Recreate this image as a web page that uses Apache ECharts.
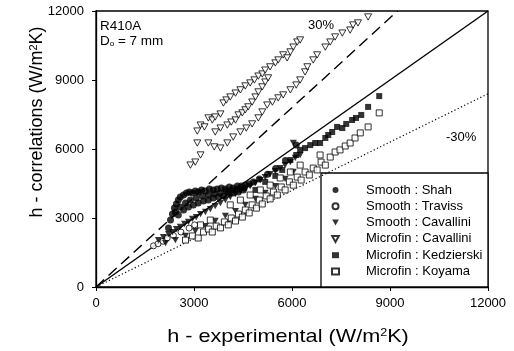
<!DOCTYPE html>
<html><head><meta charset="utf-8">
<script src="https://cdn.jsdelivr.net/npm/echarts@6/dist/echarts.min.js"></script>
<style>html,body{margin:0;padding:0;background:#fff}#c{width:514px;height:351px}</style>
</head><body><div id="c"></div>
<script>
// ---- data ----
const axisMin = 0, axisMax = 12000, axisStep = 3000;
const seriesNames = ['Smooth : Shah','Smooth : Traviss','Smooth : Cavallini','Microfin : Cavallini','Microfin : Kedzierski','Microfin : Koyama'];
const lineEqual = [[0,0],[12000,12000]];
const linePlus30 = [[0,0],[9231,12000]];
const lineMinus30 = [[0,0],[12000,8400]];

const smoothShah = [
 [2220,2570],[2280,2910],[2340,3170],[2400,3440],[2460,3610],[2520,3780],[2580,3910],[2680,4000],[2770,4090],[2860,4130],
 [2950,4090],[3040,4170],[3130,4130],[3230,4220],[3350,4170],[3470,4260],[3590,4220],[3710,4260],[3840,4300],[3960,4260],
 [4080,4350],[4200,4300],[4330,4390],[4450,4390],[4570,4430],[4690,4480],
 [2520,3130],[2680,3350],[2830,3480],[2980,3570],[3130,3650],[3290,3740],[3440,3780],[3590,3870],[3750,3910],[3900,3960],
 [4050,4040],[4200,4090],[4360,4130],[4510,4220],
 [2430,3260],[2580,3480],[2740,3650],[2890,3780],[3070,3870],[3260,3960],[3440,4000],[3620,4040],[3800,4090],[3990,4170],
 [4170,4220],[4360,4260],[4540,4300],
 [4820,4560],[5000,4700],[5250,4900],[5500,5150],[5800,5500],[6130,6170]
];
const smoothTraviss = [
 [1760,1790],[1900,1880],[2050,1990],[2180,2130],[2370,2240],[2600,2390],[2850,2560],[3020,2700]
];
const smoothCavallini = [
 [1910,2040],[2060,2170],[2220,2300],[2340,2390],[2460,2520],[2580,2610],[2710,2740],[2830,2830],[2950,2960],[3070,3040],
 [3200,3170],[3350,3260],[3500,3390],[3650,3520],[3810,3650],[3960,3780],[4110,3910],[4270,4040],[4420,4170],[4570,4300],
 [4720,4390],[4880,4520],[5030,4650],[5180,4780],[5330,4910],[5490,5040],[5640,5170],[5790,5300],[5950,5430],[6100,5610],
 [6250,5740],[6040,6260],
 [2130,1910],[2430,2040],[2740,2220],[3040,2430],[3350,2650],[3650,2870],[3960,3090],[4270,3300],[4570,3570],[4880,3830],
 [5180,4090],[5490,4390],[5790,4700],[6040,5000]
];
const microfinCavallini = [
 [3100,6780],[3200,7040],[3320,6960],[3440,7350],[3560,7260],[3650,7390],[3810,7520],[3900,8000],[3990,8130],[4110,8260],
 [4270,8430],[4420,8570],[4570,8740],[4720,8870],[4850,9000],[4970,9170],[5090,9260],[5180,9430],[5330,9570],[5490,9740],
 [5580,9870],[5730,10090],[5850,9960],[5950,10220],[6040,10430],[6160,10650],[6250,10740],
 [3650,6740],[3810,6910],[4020,7040],[4140,7170],[4270,7260],[4360,7480],[4480,7570],[4570,7700],[4660,7830],[4780,8040],
 [4880,8260],[4970,8480],[5090,8700],[5180,8910],[5270,9090],
 [2890,5300],[3040,5430],[3200,5740],[3100,6260],[3440,6260],[3620,6090],[3810,6040],[4020,6260],[4200,6520],[4420,6740],
 [4600,6910],[4780,7090],[4970,7350],[5090,7610],[5240,7910],[5400,8040],[5580,8220],[5730,8350],[5950,8570],[6130,8780],
 [6250,9000],[6400,9350],[6470,9570],[6650,9870],[6770,10090],[7020,10430],[7170,10650],[7320,10870],[7540,11040],[7780,11170],
 [7870,11390],[8020,11480],[8330,11740]
];
const microfinKedzierski = [
 [5950,5520],[6130,5740],[6250,5960],[6400,6040],[6560,6170],[6710,6260],[6860,6260],[7020,6480],[7110,6610],[7230,6740],
 [7380,6960],[7540,6910],[7660,7090],[7840,7260],[7960,7350],[8120,7480],[8330,7830],[8670,8300],
 [4880,4220],[5180,4570],[5490,4830],[5700,5090]
];
const microfinKoyama = [
 [2740,2040],[2950,2220],[3130,2130],[3290,2390],[3440,2520],[3560,2390],[3680,2650],[3810,2570],[3930,2830],[4050,2700],
 [4140,3000],[4270,2870],[4360,3170],[4480,3040],[4570,3350],[4690,3220],[4780,3570],[4910,3430],[5000,3780],[5090,3610],
 [5210,3960],[5330,3830],[5430,4130],[5550,4000],[5670,4350],[5790,4220],[5920,4570],[6040,4430],[6160,4780],[6280,4650],
 [6400,5000],[6530,4870],[6650,5170],[6770,5090],[6890,5430],[7020,5300],[7170,5650],[7320,5870],[7470,5960],[7630,6130],
 [7780,6260],[7930,6480],[8090,6700],[8330,6960],[8670,7570],
 [4110,3570],[4420,3780],[4720,4000],[5030,4220],[5330,4430],[5640,4740],[5950,5000],[6250,5300],[6860,5740],[3200,2700],[3500,2910]
];

// ---- chart ----
const chart = echarts.init(document.getElementById('c'), null, {renderer: 'canvas'});
const FONT = 'Arial, "Liberation Sans", sans-serif';
const DOWN_TRI = 'path://M0,0L20,0L10,18Z';
const axisCommon = {
  type: 'value', min: axisMin, max: axisMax, interval: axisStep,
  axisLine: {show: true, onZero: false, lineStyle: {color: '#000', width: 1.3}},
  axisTick: {show: true, inside: false, length: 4, lineStyle: {color: '#000', width: 1}},
  splitLine: {show: false},
  axisLabel: {color: '#000', fontSize: 13, fontFamily: FONT, formatter: function (v) { return String(v); }}
};
const openStyle = {color: '#fff', borderColor: '#000', borderWidth: 1};
const filledStyle = {color: '#000'};
function scatter(name, data, symbol, size, style) {
  return {name, type: 'scatter', data, symbol, symbolSize: size, symbolKeepAspect: true,
    itemStyle: style, z: 3, animation: false, silent: true};
}
function refLine(data, type, width) {
  return {type: 'line', data, symbol: 'none', silent: true, animation: false, z: 2,
    lineStyle: {color: '#000', width, type}};
}
chart.setOption({
  animation: false,
  grid: {left: 96, right: 26, top: 11, bottom: 64, show: true, borderColor: '#000', borderWidth: 1.3},
  xAxis: Object.assign({}, axisCommon, {axisLabel: Object.assign({}, axisCommon.axisLabel, {margin: 10})}),
  yAxis: Object.assign({}, axisCommon, {axisLabel: Object.assign({}, axisCommon.axisLabel, {margin: 12})}),
  legend: {
    data: seriesNames, orient: 'vertical', left: 331, top: 182, padding: 0, z: 20,
    itemWidth: 7, itemHeight: 6, itemGap: 0.3, selectedMode: false, symbolKeepAspect: true,
    textStyle: {fontSize: 13, fontFamily: FONT, color: '#000', lineHeight: 16, padding: [0, 0, 0, 22]}
  },
  graphic: [
    {type: 'rect', shape: {x: 321, y: 173, width: 167, height: 114}, style: {fill: '#fff', stroke: '#000', lineWidth: 1.3}, z: 1},
    {type: 'text', left: 100, top: 19, style: {text: 'R410A', font: '13.5px ' + FONT, fill: '#000'}, z: 20},
    {type: 'text', left: 100, top: 34, style: {text: 'D{sub|o} = 7 mm', font: '13.5px ' + FONT, fill: '#000',
      rich: {sub: {fontSize: 8, fontFamily: FONT, verticalAlign: 'bottom', padding: [6, 0, 0, 0]}}}, z: 20},
    {type: 'text', left: 308, top: 19, style: {text: '30%', font: '13px ' + FONT, fill: '#000'}, z: 20},
    {type: 'text', left: 446, top: 131, style: {text: '-30%', font: '13px ' + FONT, fill: '#000'}, z: 20},
    {type: 'text', x: 288, y: 337, scaleX: 1.14, style: {text: 'h - experimental (W/m{sup|2}K)', font: '19px ' + FONT, fill: '#000',
      align: 'center', verticalAlign: 'middle', rich: {sup: {fontSize: 11, fontFamily: FONT, verticalAlign: 'top'}}}, z: 20},
    {type: 'text', x: 37, y: 122, rotation: Math.PI / 2, style: {text: 'h - correlations (W/m{sup|2}K)', font: '18px ' + FONT, fill: '#000',
      align: 'center', verticalAlign: 'middle', rich: {sup: {fontSize: 11, fontFamily: FONT, verticalAlign: 'top'}}}, z: 20}
  ],
  series: [
    refLine(lineEqual, 'solid', 1.4),
    refLine(linePlus30, [11, 6], 1.4),
    refLine(lineMinus30, [1.2, 2.4], 1.2),
    scatter(seriesNames[0], smoothShah, 'circle', 7, filledStyle),
    scatter(seriesNames[1], smoothTraviss, 'circle', 6, openStyle),
    scatter(seriesNames[2], smoothCavallini, DOWN_TRI, 7, filledStyle),
    scatter(seriesNames[3], microfinCavallini, DOWN_TRI, 7, openStyle),
    scatter(seriesNames[4], microfinKedzierski, 'rect', 6, filledStyle),
    scatter(seriesNames[5], microfinKoyama, 'rect', 6, openStyle)
  ]
});
</script></body></html>
